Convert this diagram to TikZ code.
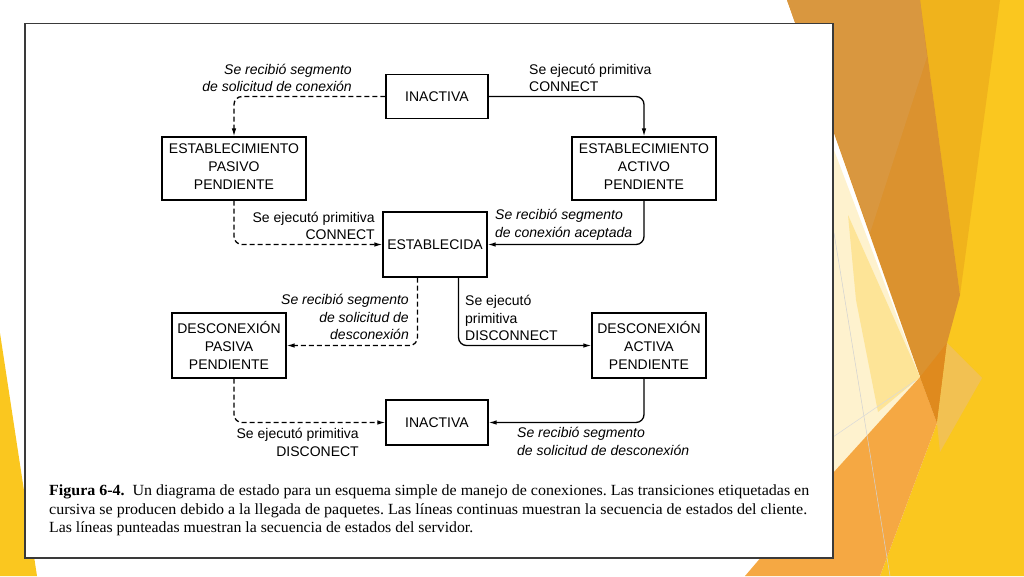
\documentclass[tikz,border=0pt]{standalone}
\usepackage{fontspec}
\setmainfont{Liberation Serif}
\newfontfamily\diagfont{Liberation Sans}
\usetikzlibrary{arrows.meta}
\definecolor{slideyellow}{HTML}{FAC71F}
\definecolor{slidegold}{HTML}{F0B31C}
\definecolor{slideorange}{HTML}{DB922F}
\definecolor{slideorangelt}{HTML}{D9973F}
\definecolor{slidepeach}{HTML}{F5A843}
\definecolor{slidepale}{HTML}{FEF2CE}
\definecolor{slidelemon}{HTML}{FDE497}
\definecolor{slidedark}{HTML}{DF8A1E}
\definecolor{slidesand}{HTML}{F2C152}
\definecolor{framegray}{HTML}{3A3A3A}
\newcommand{\capline}[2]{\resizebox{#1}{\height}{#2}}

\begin{document}
\begin{tikzpicture}[x=1pt, y=-1pt,
  state/.style={draw, line width=1.1pt, fill=white, inner sep=0pt, align=center,
    font=\diagfont\fontsize{14}{18}\selectfont},
  lbl/.style={inner sep=0pt, font=\diagfont\fontsize{14}{17.5}\selectfont},
  lblit/.style={lbl, font=\diagfont\itshape\fontsize{14}{17.5}\selectfont},
  cli/.style={-{Latex[length=8pt,width=4.5pt]}, line width=1.3pt, rounded corners=8pt},
  srv/.style={cli, dash pattern=on 5pt off 3pt},
  caption/.style={inner sep=0pt, align=left,
    font=\frenchspacing\fontsize{15.5}{18.5}\selectfont},
]
  \useasboundingbox (0,0) rectangle (1024,576);

  % slide background
  \fill[slideyellow] (920,0) -- (1024,0) -- (1024,576) -- (880,576) -- (937,423) -- cycle;
  \fill[slidegold] (920,0) -- (1000,0) -- (960,295) -- cycle;
  \fill[slideorange] (787,0) -- (920,0) -- (960,295) -- (947,343) -- (937,423) -- (920,377) -- cycle;
  \fill[slideorangelt] (787,0) -- (920,0) -- (927,57) -- (870,233) -- cycle;
  \fill[slidepale] (834,150) -- (920,377) -- (833,475) -- cycle;
  \fill[slidelemon] (848,215) -- (920,377) -- (878,412) -- (856,300) -- cycle;
  \fill[slidepeach] (745,576) -- (833,473) -- (920,377) -- (937,423) -- (880,576) -- cycle;
  \fill[slidedark] (920,377) -- (947,343) -- (937,423) -- cycle;
  \fill[slidesand] (947,343) -- (982,378) -- (940,452) -- (937,423) -- cycle;
  \fill[slideyellow] (0,333) -- (37,576) -- (0,576) -- cycle;
  \draw[gray!35, line width=0.5pt] (834,233) -- (890,576);
  \draw[gray!30, line width=0.5pt] (833,437) -- (915,381);

  % figure frame
  \draw[framegray, line width=1.6pt, fill=white] (25,23.5) rectangle (833,558);

  % states
  \node[state, minimum width=102pt, minimum height=44pt] (inac1) at (437,96.5) {INACTIVA};
  \node[state, minimum width=144pt, minimum height=63pt] (estpas) at (234,168.5) {ESTABLECIMIENTO\\PASIVO\\PENDIENTE\rule[-3pt]{0pt}{0pt}};
  \node[state, minimum width=144pt, minimum height=63pt] (estact) at (644,168.5) {ESTABLECIMIENTO\\ACTIVO\\PENDIENTE\rule[-3pt]{0pt}{0pt}};
  \node[state, minimum width=104pt, minimum height=65pt] (establ) at (435,244.5) {ESTABLECIDA};
  \node[state, minimum width=114pt, minimum height=65pt] (descpas) at (229,345.5) {DESCONEXIÓN\\PASIVA\\PENDIENTE};
  \node[state, minimum width=114pt, minimum height=65pt] (descact) at (649,345.5) {DESCONEXIÓN\\ACTIVA\\PENDIENTE};
  \node[state, minimum width=102pt, minimum height=45pt] (inac2) at (437,422.5) {INACTIVA};

  % transitions
  \draw[srv] (inac1.west) -| (estpas.north);
  \draw[cli] (inac1.east) -| (estact.north);
  \draw[srv] (estpas.south) |- (establ.west);
  \draw[cli] (estact.south) |- (establ.east);
  \draw[srv] ([xshift=35pt]establ.south west) |- (descpas.east);
  \draw[cli] ([xshift=-29pt]establ.south east) |- (descact.west);
  \draw[srv] ([xshift=5pt]descpas.south) |- (inac2.west);
  \draw[cli] ([xshift=-5pt]descact.south) |- (inac2.east);

  % transition labels
  \node[lblit, align=right, anchor=east] (lsolcon) at (352,78) {Se recibió segmento\\de solicitud de conexión};
  \node[lbl, align=left, anchor=west] (lconn1) at (529,78) {Se ejecutó primitiva\\CONNECT};
  \node[lbl, align=right, anchor=east] (lconn2) at (375,226) {Se ejecutó primitiva\\CONNECT};
  \node[lblit, align=left, anchor=west] (lacept) at (495,225) {Se recibió segmento\\de conexión aceptada};
  \node[lblit, align=right, anchor=east] (lsoldesc1) at (409,317) {Se recibió segmento\\de solicitud de\\desconexión};
  \node[lbl, align=left, anchor=west] (ldisc1) at (465,318) {Se ejecutó\\primitiva\\DISCONNECT};
  \node[lbl, align=right, anchor=east] (ldisc2) at (359,442.5) {Se ejecutó primitiva\\DISCONECT};
  \node[lblit, align=left, anchor=west] (lsoldesc2) at (517,441.5) {Se recibió segmento\\de solicitud de desconexión};

  % caption
  \node[caption, anchor=north west] (cap) at (49,485) {%
    \capline{760pt}{\textbf{Figura 6-4.}\ \ Un diagrama de estado para un esquema simple de manejo de conexiones. Las transiciones etiquetadas en}\\
    \capline{758pt}{cursiva se producen debido a la llegada de paquetes. Las líneas continuas muestran la secuencia de estados del cliente.}\\
    \capline{424pt}{Las líneas punteadas muestran la secuencia de estados del servidor.}};
\end{tikzpicture}
\end{document}
